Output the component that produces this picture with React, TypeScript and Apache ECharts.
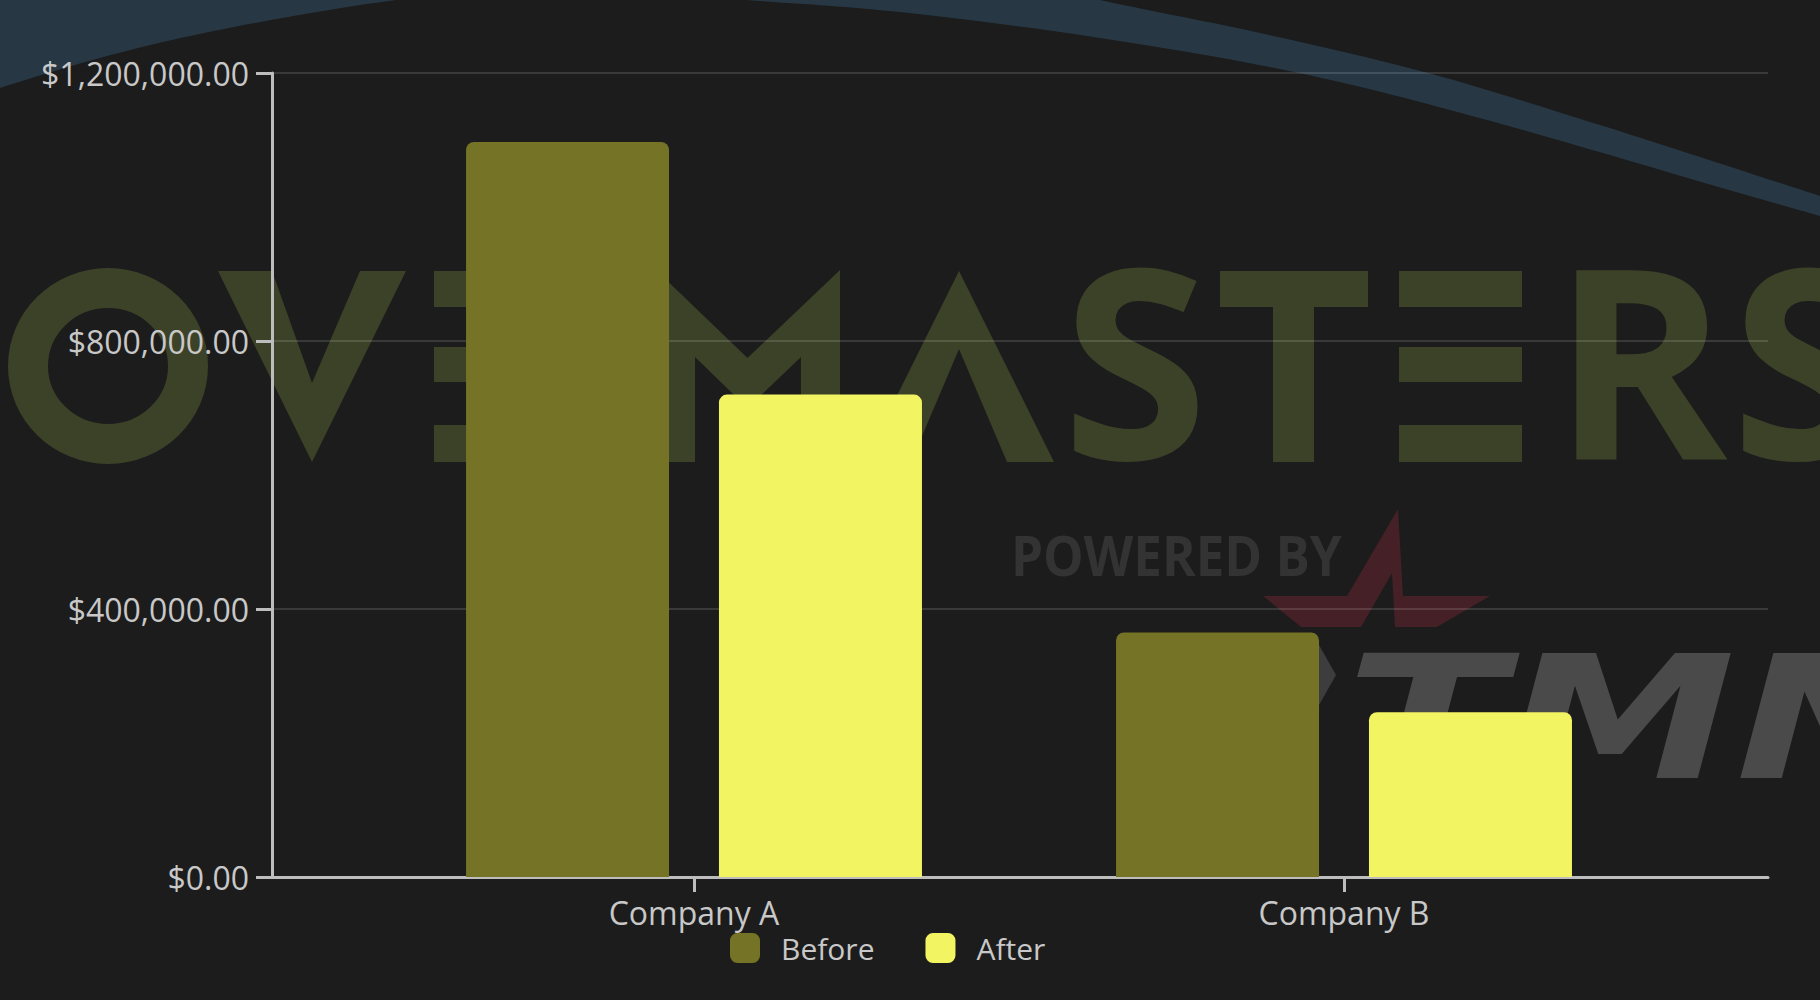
import React, { useEffect, useRef } from 'react';
import * as echarts from 'echarts';

// ---- data ----
const categories = ['Company A', 'Company B'];
const seriesNames = ['Before', 'After'];
const beforeValues = [1097000, 365000];
const afterValues = [720000, 246000];
const yMin = 0;
const yMax = 1200000;
const yInterval = 400000;

// ---- style ----
const BG = '#1c1c1c';
const BEFORE_COLOR = '#757325';
const AFTER_COLOR = '#f3f462';
const AXIS_COLOR = '#bdbdbd';
const LABEL_COLOR = '#c8c8c8';
const WM = '#3c4228';
const FONT = 'Open Sans';

function catmullPath(pts: number[][]): string {
  let d = '';
  for (let i = 0; i < pts.length - 1; i++) {
    const p0 = pts[Math.max(0, i - 1)];
    const p1 = pts[i];
    const p2 = pts[i + 1];
    const p3 = pts[Math.min(pts.length - 1, i + 2)];
    const c1x = p1[0] + (p2[0] - p0[0]) / 6;
    const c1y = p1[1] + (p2[1] - p0[1]) / 6;
    const c2x = p2[0] - (p3[0] - p1[0]) / 6;
    const c2y = p2[1] - (p3[1] - p1[1]) / 6;
    d += ` C ${c1x} ${c1y} ${c2x} ${c2y} ${p2[0]} ${p2[1]}`;
  }
  return d;
}

const innerArc = [[-60, 115], [0, 88], [172, 40], [396, 0], [571, -12], [746, 0], [900, 12], [1100, 38], [1299, 73], [1487, 120], [1722, 188], [1820, 216], [1880, 234]];
const outerArc = [[1880, 216], [1820, 196], [1600, 125], [1428, 73], [1260, 33], [1100, 0], [900, -45], [500, -120], [0, -200]];
const crescentD =
  `M ${innerArc[0][0]} ${innerArc[0][1]}` + catmullPath(innerArc) +
  ` L ${outerArc[0][0]} ${outerArc[0][1]}` + catmullPath(outerArc) +
  ` L -60 -250 Z`;

echarts.graphic.registerShape('crescent', echarts.graphic.extendPath(crescentD, {}));

const fmt = (v: number) =>
  '$' + v.toLocaleString('en-US', { minimumFractionDigits: 2, maximumFractionDigits: 2 });

function watermark(): any[] {
  const z = -5;
  const els: any[] = [];
  els.push({ type: 'crescent', x: 0, y: 0, scaleX: 1, scaleY: 1, z, silent: true, style: { fill: '#273844' } });
  // O
  els.push({ type: 'ellipse', z, silent: true, shape: { cx: 108, cy: 366, rx: 80, ry: 78 }, style: { fill: 'none', stroke: WM, lineWidth: 40 } });
  // V
  els.push({ type: 'polygon', z, silent: true, shape: { points: [[218, 271], [272, 271], [312, 383], [360, 271], [406, 271], [312, 462]] }, style: { fill: WM } });
  // E (three bars)
  const ebars = (x: number) => [
    { type: 'rect', z, silent: true, shape: { x, y: 271, width: 123, height: 36 }, style: { fill: WM } },
    { type: 'rect', z, silent: true, shape: { x, y: 347, width: 123, height: 35 }, style: { fill: WM } },
    { type: 'rect', z, silent: true, shape: { x, y: 425, width: 123, height: 37 }, style: { fill: WM } },
  ];
  els.push(...ebars(434));
  // M
  els.push({ type: 'polygon', z, silent: true, shape: { points: [[656, 462], [656, 270], [747.5, 358], [840, 270], [840, 462], [801, 462], [801, 357], [747.5, 408], [695, 357], [695, 462]] }, style: { fill: WM } });
  // Lambda A
  els.push({ type: 'polygon', z, silent: true, shape: { points: [[864, 462], [959, 271], [1054, 462], [1007, 462], [959, 349], [911, 462]] }, style: { fill: WM } });
  // S
  els.push({ type: 'text', z, silent: true, x: 1135, y: 357, style: { text: 'S', fill: WM, font: `bold 265px "${FONT}"`, align: 'center', verticalAlign: 'middle' } });
  // T
  els.push({ type: 'rect', z, silent: true, shape: { x: 1220, y: 271, width: 148, height: 36 }, style: { fill: WM } });
  els.push({ type: 'rect', z, silent: true, shape: { x: 1273, y: 271, width: 41, height: 191 }, style: { fill: WM } });
  // E
  els.push(...ebars(1399));
  // R, S
  els.push({ type: 'text', z, silent: true, x: 1640, y: 357, style: { text: 'R', fill: WM, font: `bold 265px "${FONT}"`, align: 'center', verticalAlign: 'middle' } });
  els.push({ type: 'text', z, silent: true, x: 1804, y: 357, style: { text: 'S', fill: WM, font: `bold 265px "${FONT}"`, align: 'center', verticalAlign: 'middle' } });
  // POWERED BY
  els.push({ type: 'text', z, silent: true, x: 1011, y: 555, scaleX: 0.93, style: { text: 'POWERED BY', fill: '#333333', font: `bold 55px "${FONT}"`, align: 'left', verticalAlign: 'middle' } });
  // red star (visible part)
  els.push({ type: 'polygon', z, silent: true, shape: { points: [[1398, 509], [1403, 596], [1490, 596], [1437, 627], [1395, 627], [1392, 573], [1361, 627], [1301, 627], [1263, 596], [1347, 596]] }, style: { fill: '#452026' } });
  // chevron
  els.push({ type: 'polygon', z, silent: true, shape: { points: [[1319, 645], [1336, 675], [1319, 705]] }, style: { fill: '#3d3d3d' } });
  // TMN
  els.push({ type: 'text', z, silent: true, x: 1346, y: 718, scaleX: 1.35, style: { text: 'TMN', fill: '#4a4a4a', font: `italic 900 172px "DejaVu Sans"`, align: 'left', verticalAlign: 'middle' } });
  return els;
}

export default function App() {
  const ref = useRef<HTMLDivElement>(null);
  useEffect(() => {
    if (!ref.current) return;
    const chart = echarts.init(ref.current, null, { renderer: 'svg' });
    const option: any = {
      backgroundColor: BG,
      animation: false,
      textStyle: { fontFamily: FONT },
      grid: [
        { left: 272, right: 52, top: 73, bottom: 123, outerBoundsMode: 'none' },
        { left: 369, right: 151, top: 73, bottom: 123, outerBoundsMode: 'none' },
      ],
      xAxis: [
        {
          gridIndex: 0, type: 'category', data: categories,
          axisLine: { show: true, lineStyle: { color: AXIS_COLOR, width: 3 } },
          axisTick: { show: false }, axisLabel: { show: false }, splitLine: { show: false },
        },
        {
          gridIndex: 1, type: 'category', data: categories,
          axisLine: { show: false },
          axisTick: { show: true, alignWithLabel: true, length: 15, lineStyle: { color: AXIS_COLOR, width: 3 } },
          axisLabel: { color: LABEL_COLOR, fontSize: 32, fontFamily: FONT, margin: 19 },
          splitLine: { show: false },
        },
      ],
      yAxis: [
        {
          gridIndex: 0, type: 'value', min: yMin, max: yMax, interval: yInterval,
          axisLine: { show: true, lineStyle: { color: AXIS_COLOR, width: 3 } },
          axisTick: { show: true, length: 16, lineStyle: { color: AXIS_COLOR, width: 3 } },
          axisLabel: { color: LABEL_COLOR, fontSize: 32, fontFamily: FONT, margin: 23, formatter: fmt },
          splitLine: { show: true, lineStyle: { color: 'rgba(255,255,255,0.13)', width: 2 } },
        },
        { gridIndex: 1, type: 'value', min: yMin, max: yMax, interval: yInterval, show: false },
      ],
      legend: {
        data: seriesNames,
        left: 725, top: 928,
        itemWidth: 30, itemHeight: 30, itemGap: 51,
        icon: 'roundRect',
        textStyle: { color: LABEL_COLOR, fontSize: 30, fontFamily: FONT, padding: [0, 0, 0, 16] },
      },
      series: [
        {
          name: seriesNames[0], type: 'bar', xAxisIndex: 1, yAxisIndex: 1, data: beforeValues,
          barWidth: 203, barGap: '24.6%',
          itemStyle: { color: BEFORE_COLOR, borderRadius: [8, 8, 0, 0] },
        },
        {
          name: seriesNames[1], type: 'bar', xAxisIndex: 1, yAxisIndex: 1, data: afterValues,
          barWidth: 203, barGap: '24.6%',
          itemStyle: { color: AFTER_COLOR, borderRadius: [8, 8, 0, 0] },
        },
      ],
      graphic: { elements: watermark() },
    };
    chart.setOption(option);
    return () => chart.dispose();
  }, []);
  return <div ref={ref} style={{ position: 'fixed', left: 0, top: 0, width: 1820, height: 1000 }} />;
}
